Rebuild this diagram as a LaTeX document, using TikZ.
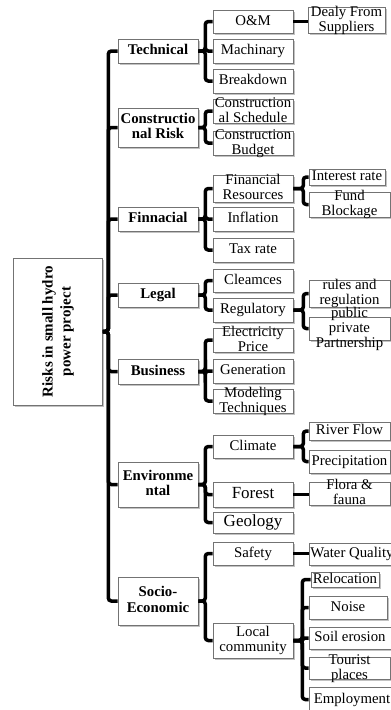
\documentclass[tikz,border=0pt]{standalone}
\usepackage{fontspec}
\setmainfont{Liberation Serif}
\usepackage{tikz}
\usetikzlibrary{shadows}

\newcommand{\celltext}[1]{\smash{\raisebox{-0.28em}{\begin{tabular}{@{}c@{}}#1\end{tabular}}}}

\begin{document}
\begin{tikzpicture}[x=1pt, y=-1pt,
  every node/.style={font=\fontsize{14.8}{15}\selectfont, inner sep=0pt},
  frame/.style={draw=black!55, fill=white, line width=0.6pt,
    drop shadow={shadow xshift=1.5pt, shadow yshift=-2pt, fill=black!40, opacity=0.6}},
  box/.style={frame, minimum width=80pt, minimum height=24pt},
  head/.style={box, font=\fontsize{14.8}{15.5}\selectfont\bfseries},
  big/.style={box, font=\fontsize{17}{18}\selectfont},
  leaf/.style={box, minimum width=81pt},
  link/.style={line width=3.5pt, rounded corners=3pt}]
  \useasboundingbox (0,0) rectangle (391,710);

  \node[frame, font=\fontsize{15}{18}\selectfont\bfseries, minimum width=89pt, minimum height=147pt] (root) at (58,331.5)
    {\rotatebox{90}{\begin{tabular}{@{}c@{}}Risks in small hydro\\power project\end{tabular}}};

  \node[head] (tech) at (158,51) {\celltext{Technical}};
  \node[head, minimum height=39pt] (constr) at (158,127.5) {\celltext{Constructio\\nal Risk}};
  \node[head] (fin) at (158,219) {\celltext{Finnacial}};
  \node[head] (legal) at (158,295) {\celltext{Legal}};
  \node[head, minimum height=25pt] (bus) at (158,371.5) {\celltext{Business}};
  \node[head, minimum height=45pt] (env) at (158,484.5) {\celltext{Environme\\ntal}};
  \node[head, minimum height=48pt] (socio) at (158,601) {\celltext{Socio-\\Economic}};

  \node[box, minimum height=23pt] (om) at (253,21.5) {\celltext{O\&M}};
  \node[box] (mach) at (253,51) {\celltext{Machinary}};
  \node[box] (brk) at (253,81) {\celltext{Breakdown}};
  \node[box] (sched) at (253,111) {\celltext{Construction\\al Schedule}};
  \node[box] (budget) at (253,143) {\celltext{Construction\\Budget}};
  \node[box, minimum height=27pt] (res) at (253,188.5) {\celltext{Financial\\Resources}};
  \node[box] (infl) at (253,219) {\celltext{Inflation}};
  \node[box] (tax) at (253,250) {\celltext{Tax rate}};
  \node[box, minimum height=23pt] (clear) at (253,280.5) {\celltext{Cleamces}};
  \node[box] (reg) at (253,310) {\celltext{Regulatory}};
  \node[box] (price) at (253,340) {\celltext{Electricity\\Price}};
  \node[box] (gen) at (253,371) {\celltext{Generation}};
  \node[box] (model) at (253,401) {\celltext{Modeling\\Techniques}};
  \node[box, minimum height=23pt] (climate) at (253,446.5) {\celltext{Climate}};
  \node[big, minimum height=25pt] (forest) at (253,494.5) {\celltext{Forest}};
  \node[big, minimum height=21pt] (geo) at (253,522.5) {\celltext{Geology}};
  \node[box, minimum height=23pt] (safety) at (253,553.5) {\celltext{Safety}};
  \node[box, minimum height=35pt] (local) at (253,640.5) {\celltext{Local\\community}};

  \node[leaf, minimum width=77pt, minimum height=26pt] (dealy) at (346.5,20) {\celltext{Dealy From\\Suppliers}};
  \node[leaf, minimum width=76pt, minimum height=16pt] (rate) at (347,177) {\celltext{Interest rate}};
  \node[leaf, minimum height=25pt] (fund) at (349.5,204.5) {\celltext{Fund\\Blockage}};
  \node[leaf, minimum height=27pt] (rules) at (349.5,293.5) {\celltext{rules and\\regulation}};
  \node[leaf, minimum height=23pt] (ppp) at (349.5,328.5) {\celltext{public\\private\\Partnership}};
  \node[leaf, minimum height=18pt] (river) at (349.5,431) {\celltext{River Flow}};
  \node[leaf, minimum height=23pt] (rain) at (349.5,461.5) {\celltext{Precipitation}};
  \node[leaf, minimum height=23pt] (flora) at (349.5,493.5) {\celltext{Flora \&\\fauna}};
  \node[leaf, minimum width=86pt, minimum height=22pt] (water) at (352,554) {\celltext{Water Quality}};
  \node[leaf, minimum width=68pt, minimum height=15pt] (reloc) at (345,579.5) {\celltext{Relocation}};
  \node[leaf, minimum width=78pt, minimum height=23pt] (noise) at (348,607.5) {\celltext{Noise}};
  \node[leaf, minimum width=82pt, minimum height=22pt] (soil) at (350,638) {\celltext{Soil erosion}};
  \node[leaf, minimum height=22pt] (tourist) at (349.5,668) {\celltext{Tourist\\places}};
  \node[leaf, minimum width=86pt, minimum height=25pt] (job) at (352,699.5) {\celltext{Employment}};

  \draw[link] (root.east) -- ++(5.5,0) |- (tech.west);
  \draw[link] (root.east) -- ++(5.5,0) |- (constr.west);
  \draw[link] (root.east) -- ++(5.5,0) |- (fin.west);
  \draw[link] (root.east) -- ++(5.5,0) |- (legal.west);
  \draw[link] (root.east) -- ++(5.5,0) |- (bus.west);
  \draw[link] (root.east) -- ++(5.5,0) |- (env.west);
  \draw[link] (root.east) -- ++(5.5,0) |- (socio.west);

  \draw[link] (tech.east) -- ++(7,0) |- (om.west);
  \draw[link] (tech.east) -- ++(7,0) |- (mach.west);
  \draw[link] (tech.east) -- ++(7,0) |- (brk.west);
  \draw[link] (constr.east) -- ++(7,0) |- (sched.west);
  \draw[link] (constr.east) -- ++(7,0) |- (budget.west);
  \draw[link] (fin.east) -- ++(7,0) |- (res.west);
  \draw[link] (fin.east) -- ++(7,0) |- (infl.west);
  \draw[link] (fin.east) -- ++(7,0) |- (tax.west);
  \draw[link] (legal.east) -- ++(7,0) |- (clear.west);
  \draw[link] (legal.east) -- ++(7,0) |- (reg.west);
  \draw[link] (bus.east) -- ++(7,0) |- (price.west);
  \draw[link] (bus.east) -- ++(7,0) |- (gen.west);
  \draw[link] (bus.east) -- ++(7,0) |- (model.west);
  \draw[link] (env.east) -- ++(7,0) |- (climate.west);
  \draw[link] (env.east) -- ++(7,0) |- (forest.west);
  \draw[link] (env.east) -- ++(7,0) |- (geo.west);
  \draw[link] (socio.east) -- ++(7,0) |- (safety.west);
  \draw[link] (socio.east) -- ++(7,0) |- (local.west);

  \draw[link] (om.east) -- (om.east -| dealy.west);
  \draw[link] (res.east) -- ++(10,0) |- (rate.west);
  \draw[link] (res.east) -- ++(10,0) |- (fund.west);
  \draw[link] (reg.east) -- ++(10,0) |- (rules.west);
  \draw[link] (reg.east) -- ++(10,0) |- (ppp.west);
  \draw[link] (climate.east) -- ++(10,0) |- (river.west);
  \draw[link] (climate.east) -- ++(10,0) |- (rain.west);
  \draw[link] (forest.east) -- (forest.east -| flora.west);
  \draw[link] (safety.east) -- (safety.east -| water.west);
  \draw[link] (local.east) -- ++(9,0) |- (reloc.west);
  \draw[link] (local.east) -- ++(9,0) |- (noise.west);
  \draw[link] (local.east) -- ++(9,0) |- (soil.west);
  \draw[link] (local.east) -- ++(9,0) |- (tourist.west);
  \draw[link] (local.east) -- ++(9,0) |- (job.west);
\end{tikzpicture}
\end{document}
